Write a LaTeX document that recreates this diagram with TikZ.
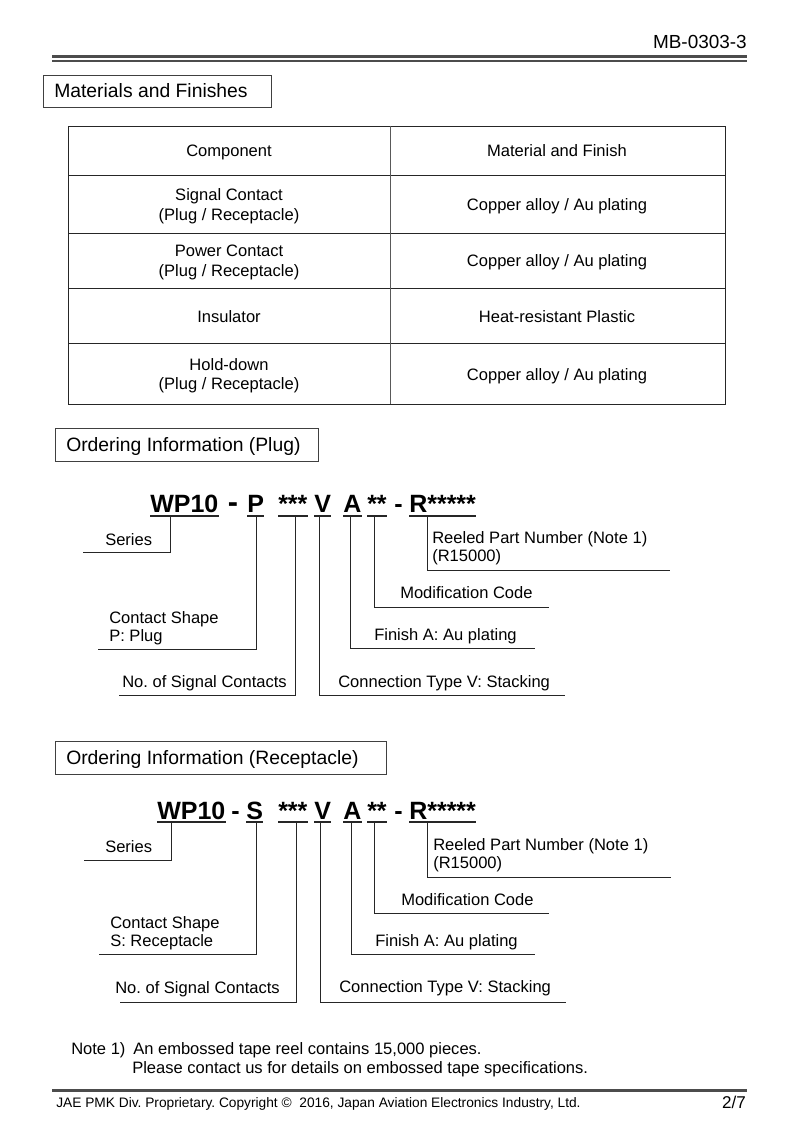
\documentclass[tikz,border=0pt]{standalone}
\usepackage{fontspec}
\setmainfont{Liberation Sans}
\frenchspacing
\begin{document}
\begin{tikzpicture}[x=0.75pt,y=-0.75pt,
  txt/.style={font=\fontsize{12.4}{15}\selectfont, inner sep=0pt, anchor=base west},
  ctxt/.style={font=\fontsize{12.4}{15}\selectfont, inner sep=0pt, anchor=base},
  hdr/.style={font=\fontsize{14.5}{17}\selectfont, inner sep=0pt, anchor=base west},
  pn/.style={font=\fontsize{18.75}{20}\selectfont\bfseries, inner sep=0pt, anchor=base west},
  smalltxt/.style={font=\fontsize{10.3}{12}\selectfont, inner sep=0pt, anchor=base west},
  lead/.style={line width=0.75pt, draw=black!85},
  uline/.style={line width=1.1pt, draw=black!85},
  boxline/.style={draw=black!75, line width=0.75pt},
  tline/.style={draw=black!85, line width=0.65pt},
  rule/.style={draw=black!70, line width=1.6pt}
]
\useasboundingbox (0,0) rectangle (793,1123);
\fill[white] (0,0) rectangle (793,1123);

% ---------- header ----------
\node[font=\fontsize{14.2}{17}\selectfont, inner sep=0pt, anchor=base east] (docno) at (747,48.5) {MB-0303-3};
\coordinate (hl1a) at (52,56.5); \coordinate (hl1b) at (747,56.5);
\coordinate (hl2a) at (52,61);   \coordinate (hl2b) at (747,61);
\draw[rule] (hl1a) -- (hl1b);
\draw[rule] (hl2a) -- (hl2b);

% ---------- Materials and Finishes ----------
\draw[boxline] (43,76) rectangle (271,108);
\node[hdr] (hMat) at (54,98) {Materials and Finishes};

% table
\draw[tline] (68,126) rectangle (725,404);
\draw[tline] (68,175) -- (725,175);
\draw[tline] (68,233) -- (725,233);
\draw[tline] (68,288) -- (725,288);
\draw[tline] (68,343) -- (725,343);
\draw[tline, draw=black!65] (390,126) -- (390,404);

\node[ctxt] (tc1) at (229,157) {Component};
\node[ctxt] (tm1) at (557,157) {Material and Finish};
\node[ctxt] (tc2a) at (229,201) {Signal Contact};
\node[ctxt] (tc2b) at (229,220) {(Plug / Receptacle)};
\node[ctxt] (tm2) at (557,211) {Copper alloy / Au plating};
\node[ctxt] (tc3a) at (229,257) {Power Contact};
\node[ctxt] (tc3b) at (229,276) {(Plug / Receptacle)};
\node[ctxt] (tm3) at (557,267) {Copper alloy / Au plating};
\node[ctxt] (tc4) at (229,322) {Insulator};
\node[ctxt] (tm4) at (557,322) {Heat-resistant Plastic};
\node[ctxt] (tc5a) at (229,370) {Hold-down};
\node[ctxt] (tc5b) at (229,389) {(Plug / Receptacle)};
\node[ctxt] (tm5) at (557,380) {Copper alloy / Au plating};

% ---------- Ordering Information (Plug) ----------
\draw[boxline] (55,428) rectangle (318,461);
\node[hdr] (hPlug) at (66,451.5) {Ordering Information (Plug)};

\node[pn] (pW) at (150,512) {WP10};
\node[pn, font=\fontsize{23}{24}\selectfont\bfseries] (pD1) at (227.5,512) {-};
\node[pn] (pP) at (247,512) {P};
\node[pn] (pN) at (278,512) {***};
\node[pn] (pV) at (314,512) {V};
\node[pn] (pA) at (343,512) {A};
\node[pn] (pM) at (367,512) {**};
\node[pn] (pD2) at (394,512) {-};
\node[pn] (pR) at (409,512) {R*****};

\coordinate (pu) at (0,516);
\foreach \n in {pW,pP,pN,pV,pA,pM,pR}{
  \draw[uline] (\n.west |- pu) -- (\n.east |- pu);
}

\node[txt] (pSeries) at (105,545) {Series};
\node[txt] (pReel1) at (432,543.5) {Reeled Part Number (Note 1)};
\node[txt] (pReel2) at (432,561.5) {(R15000)};
\node[txt] (pMod) at (400,598) {Modification Code};
\node[txt] (pCS1) at (109,623) {Contact Shape};
\node[txt] (pCS2) at (109,641) {P: Plug};
\node[txt] (pFin) at (374,640) {Finish A: Au plating};
\node[txt] (pNo) at (122,687) {No. of Signal Contacts};
\node[txt] (pCon) at (338,687) {Connection Type V: Stacking};

\coordinate (pWt) at (170,516);  \coordinate (pWe) at (83,552);
\coordinate (pPt) at (256,516);  \coordinate (pPe) at (98,649);
\coordinate (pNt) at (295,516);  \coordinate (pNe) at (119,695);
\coordinate (pVt) at (319,516);  \coordinate (pVe) at (565,695);
\coordinate (pAt) at (350,516);  \coordinate (pAe) at (535,648);
\coordinate (pMt) at (374,516);  \coordinate (pMe) at (549,607);
\coordinate (pRt) at (427,516);  \coordinate (pRe) at (670,570);
\foreach \n in {pW,pP,pN,pV,pA,pM,pR}{
  \draw[lead] (\n t) |- (\n e);
}

% ---------- Ordering Information (Receptacle) ----------
\draw[boxline] (55,741) rectangle (386,774);
\node[hdr] (hRec) at (66,764) {Ordering Information (Receptacle)};

\node[pn] (rW) at (157,819) {WP10};
\node[pn] (rD1) at (231,819) {-};
\node[pn] (rS) at (246,819) {S};
\node[pn] (rN) at (278,819) {***};
\node[pn] (rV) at (314,819) {V};
\node[pn] (rA) at (343,819) {A};
\node[pn] (rM) at (367,819) {**};
\node[pn] (rD2) at (394,819) {-};
\node[pn] (rR) at (409,819) {R*****};

\coordinate (ru) at (0,822);
\foreach \n in {rW,rS,rN,rV,rA,rM,rR}{
  \draw[uline] (\n.west |- ru) -- (\n.east |- ru);
}

\node[txt] (rSeries) at (105,852) {Series};
\node[txt] (rReel1) at (433,850.5) {Reeled Part Number (Note 1)};
\node[txt] (rReel2) at (433,868.5) {(R15000)};
\node[txt] (rMod) at (401,905) {Modification Code};
\node[txt] (rCS1) at (110,928) {Contact Shape};
\node[txt] (rCS2) at (110,946) {S: Receptacle};
\node[txt] (rFin) at (375,946) {Finish A: Au plating};
\node[txt] (rNo) at (115,993) {No. of Signal Contacts};
\node[txt] (rCon) at (339,992) {Connection Type V: Stacking};

\coordinate (rWt) at (171,822);  \coordinate (rWe) at (84,860);
\coordinate (rSt) at (256,822);  \coordinate (rSe) at (99,954);
\coordinate (rNt) at (296,822);  \coordinate (rNe) at (120,1002);
\coordinate (rVt) at (320,822);  \coordinate (rVe) at (566,1002);
\coordinate (rAt) at (351,822);  \coordinate (rAe) at (535,954);
\coordinate (rMt) at (374,822);  \coordinate (rMe) at (549,913);
\coordinate (rRt) at (427,822);  \coordinate (rRe) at (671,877);
\foreach \n in {rW,rS,rN,rV,rA,rM,rR}{
  \draw[lead] (\n t) |- (\n e);
}

% ---------- note ----------
\node[txt] (note0) at (71,1054) {Note 1)};
\node[txt] (note1) at (133,1054) {An embossed tape reel contains 15,000 pieces.};
\node[txt] (note2) at (132,1073.5) {Please contact us for details on embossed tape specifications.};

% ---------- footer ----------
\coordinate (fla) at (52,1090.5); \coordinate (flb) at (747,1090.5);
\draw[draw=black!70, line width=2.2pt] (fla) -- (flb);
\node[smalltxt] (foot) at (56,1107) {JAE PMK Div. Proprietary. Copyright \textcopyright\ \ 2016, Japan Aviation Electronics Industry, Ltd.};
\node[font=\fontsize{12.8}{15}\selectfont, inner sep=0pt, anchor=base east] (page) at (746,1108.5) {2/7};
\end{tikzpicture}
\end{document}
